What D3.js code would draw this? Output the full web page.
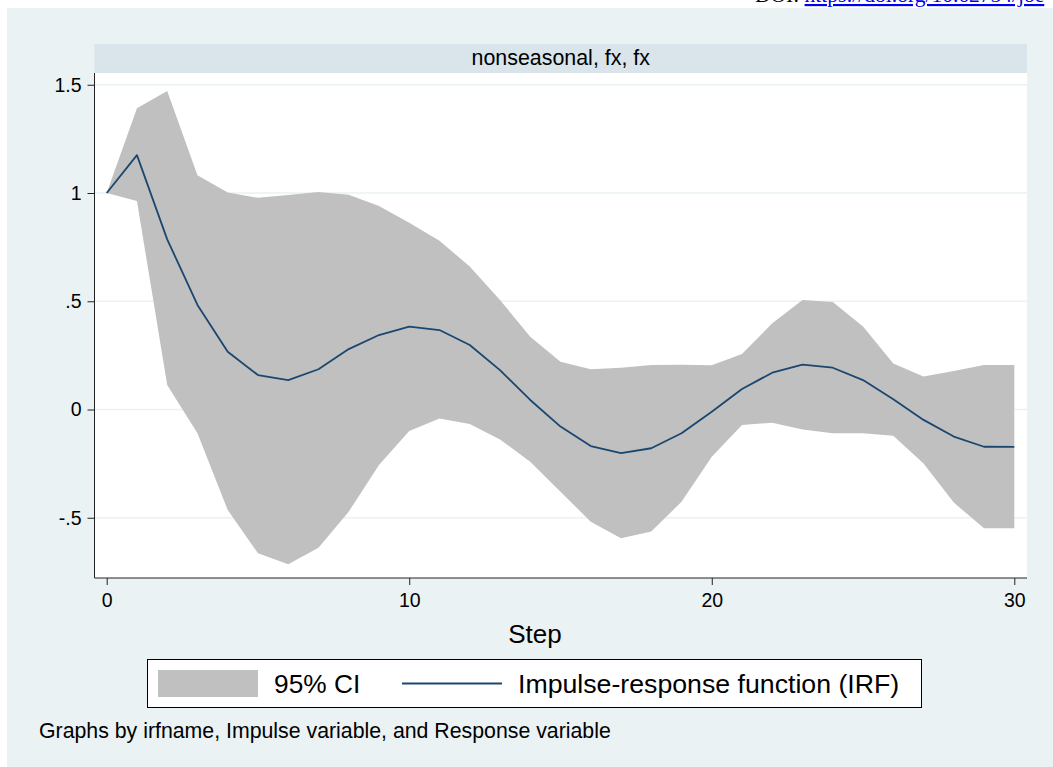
<!DOCTYPE html>
<html lang="en">
<head>
    <meta charset="UTF-8">
    <title>IRF nonseasonal, fx, fx</title>
    <script src="https://d3js.org/d3.v7.min.js"></script>
    <style>
        body { margin: 0; background: #fff; }
        svg { display: block; font-family: Arial, "Liberation Sans", Helvetica, sans-serif; }
        .grid line { stroke: #EAF2F3; stroke-width: 1.5px; }
        .axis text { fill: #000; }
        .axis line { stroke: #222; }
    </style>
</head>
<body>
    <div id="chart"></div>

    <script>
        // values
        const steps = d3.range(0, 31);
        const irf = [1.0, 1.175, 0.786, 0.483, 0.267, 0.159, 0.136, 0.186, 0.279, 0.344,
                     0.383, 0.367, 0.298, 0.182, 0.044, -0.079, -0.169, -0.202, -0.179, -0.110,
                     -0.010, 0.095, 0.170, 0.207, 0.193, 0.136, 0.047, -0.048, -0.125, -0.172, -0.173];
        const ciUpper = [1.0, 1.391, 1.471, 1.082, 1.002, 0.978, 0.991, 1.005, 0.992, 0.940,
                         0.863, 0.780, 0.660, 0.506, 0.336, 0.221, 0.186, 0.193, 0.206, 0.207,
                         0.204, 0.256, 0.398, 0.506, 0.497, 0.383, 0.213, 0.152, 0.178, 0.206, 0.206];
        const ciLower = [1.0, 0.963, 0.113, -0.110, -0.464, -0.664, -0.715, -0.638, -0.472, -0.256,
                         -0.099, -0.041, -0.067, -0.138, -0.241, -0.380, -0.518, -0.595, -0.564, -0.426,
                         -0.218, -0.072, -0.061, -0.092, -0.110, -0.110, -0.121, -0.249, -0.430, -0.549, -0.549];
        const yTicks = [-0.5, 0, 0.5, 1, 1.5];
        const yTickLabels = ["-.5", "0", ".5", "1", "1.5"];
        const xTicks = [0, 10, 20, 30];

        const width = 1053, height = 767;
        const plot = { left: 94.5, right: 1027, top: 73, bottom: 578 };

        const svg = d3.select("#chart").append("svg")
            .attr("width", width)
            .attr("height", height);

        // outer graph region
        svg.append("rect")
            .attr("x", 7).attr("y", 8)
            .attr("width", width - 7).attr("height", height - 8)
            .attr("fill", "#EAF2F3");

        // DOI line of the page above, cut by the top edge as in the source
        const doi = svg.append("text")
            .attr("x", 755).attr("y", 2)
            .style("font-family", "'Liberation Serif', 'Times New Roman', serif")
            .style("font-size", "21.5px");
        doi.append("tspan").attr("fill", "#000").text("DOI: ");
        doi.append("tspan").attr("fill", "#0000EE")
            .style("text-decoration", "underline")
            .text("https://doi.org/10.62754/joe");

        // subgraph title strip
        svg.append("rect")
            .attr("x", plot.left).attr("y", 44)
            .attr("width", plot.right - plot.left).attr("height", plot.top - 44)
            .attr("fill", "#D9E5EA");
        svg.append("text")
            .attr("x", (plot.left + plot.right) / 2).attr("y", 65)
            .attr("text-anchor", "middle")
            .style("font-size", "21.4px")
            .text("nonseasonal, fx, fx");

        // plot region
        svg.append("rect")
            .attr("x", plot.left).attr("y", plot.top)
            .attr("width", plot.right - plot.left).attr("height", plot.bottom - plot.top)
            .attr("fill", "#fff");

        const x = d3.scaleLinear().domain([0, 30]).range([106.7, 1014.3]);
        const y = d3.scaleLinear().domain([-0.5, 1.5]).range([517.75, 84.75]);

        svg.append("g").attr("class", "grid")
            .selectAll("line")
            .data(yTicks)
            .join("line")
            .attr("x1", plot.left).attr("x2", plot.right)
            .attr("y1", d => y(d)).attr("y2", d => y(d));

        const rows = steps.map((s, i) => ({ s, lo: ciLower[i], hi: ciUpper[i], v: irf[i] }));

        svg.append("path")
            .datum(rows)
            .attr("fill", "#C0C0C0")
            .attr("d", d3.area()
                .x(d => x(d.s))
                .y0(d => y(d.lo))
                .y1(d => y(d.hi)));

        svg.append("path")
            .datum(rows)
            .attr("fill", "none")
            .attr("stroke", "#1A476F")
            .attr("stroke-width", 1.8)
            .attr("stroke-linejoin", "round")
            .attr("d", d3.line()
                .x(d => x(d.s))
                .y(d => y(d.v)));

        // axes
        const yAxis = svg.append("g").attr("class", "axis")
            .attr("transform", `translate(${plot.left},0)`)
            .call(d3.axisLeft(y)
                .tickValues(yTicks)
                .tickFormat((d, i) => yTickLabels[i])
                .tickSize(7)
                .tickPadding(6));
        yAxis.select(".domain").remove();
        yAxis.selectAll("text").style("font-size", "19.5px");

        const xAxis = svg.append("g").attr("class", "axis")
            .attr("transform", `translate(0,${plot.bottom})`)
            .call(d3.axisBottom(x)
                .tickValues(xTicks)
                .tickFormat(d3.format("d"))
                .tickSize(7)
                .tickPadding(8.5));
        xAxis.select(".domain").remove();
        xAxis.selectAll("text").style("font-size", "19.5px");

        svg.append("line")
            .attr("x1", plot.left).attr("x2", plot.left)
            .attr("y1", plot.top).attr("y2", plot.bottom)
            .attr("stroke", "#222");
        svg.append("line")
            .attr("x1", plot.left).attr("x2", plot.right)
            .attr("y1", plot.bottom).attr("y2", plot.bottom)
            .attr("stroke", "#222");

        svg.append("text")
            .attr("x", 535).attr("y", 643)
            .attr("text-anchor", "middle")
            .style("font-size", "26px")
            .text("Step");

        // legend
        const legend = svg.append("g");
        legend.append("rect")
            .attr("x", 147.5).attr("y", 659.5)
            .attr("width", 774).attr("height", 48)
            .attr("fill", "#fff").attr("stroke", "#000");
        legend.append("rect")
            .attr("x", 158).attr("y", 670)
            .attr("width", 100).attr("height", 27)
            .attr("fill", "#C0C0C0");
        legend.append("text")
            .attr("x", 274).attr("y", 693)
            .style("font-size", "26.3px")
            .text("95% CI");
        legend.append("line")
            .attr("x1", 402).attr("x2", 502)
            .attr("y1", 683.5).attr("y2", 683.5)
            .attr("stroke", "#1A476F").attr("stroke-width", 1.8);
        legend.append("text")
            .attr("x", 518).attr("y", 693)
            .style("font-size", "26.7px")
            .text("Impulse-response function (IRF)");

        svg.append("text")
            .attr("x", 39).attr("y", 738)
            .style("font-size", "21.3px")
            .text("Graphs by irfname, Impulse variable, and Response variable");
    </script>
</body>
</html>
